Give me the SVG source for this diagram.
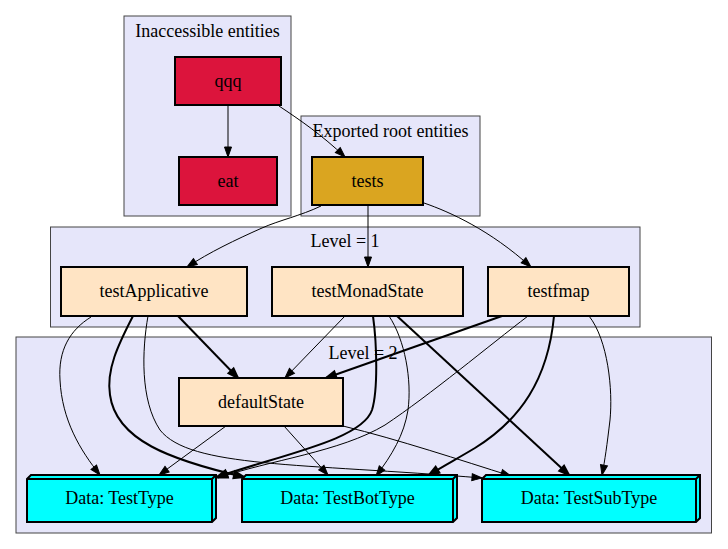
<svg xmlns="http://www.w3.org/2000/svg" width="728" height="549" viewBox="0 0 728 549">
<style>
text{font-family:"Liberation Serif","Times New Roman",serif;font-size:18px;text-anchor:middle;fill:#000}
.cl{fill:#e6e6fa;stroke:#444;stroke-width:1}
.n{stroke:#000;stroke-width:2}
.red{fill:#dc143c}.gold{fill:#daa520}.bis{fill:#ffe4c4}.cy{fill:#00ffff}
.e{fill:none;stroke:#000;stroke-width:1;marker-end:url(#a)}
.t{fill:none;stroke:#000;stroke-width:2;marker-end:url(#b)}
</style>
<defs>
<marker id="a" markerWidth="12" markerHeight="9" refX="10" refY="3.5" orient="auto" markerUnits="userSpaceOnUse" overflow="visible"><path d="M0,0 L10,3.5 L0,7 z" fill="#000" stroke="#000" stroke-width="1"/></marker>
<marker id="b" markerWidth="12" markerHeight="9" refX="10" refY="3.5" orient="auto" markerUnits="userSpaceOnUse" overflow="visible"><path d="M0,0 L10,3.5 L0,7 z" fill="#000" stroke="#000" stroke-width="2" stroke-linejoin="miter"/></marker>
</defs>
<rect width="728" height="549" fill="#fff"/>
<g id="clusters">
<rect class="cl" x="124" y="16" width="167" height="200"/>
<text x="207.5" y="37">Inaccessible entities</text>
<rect class="cl" x="301" y="116" width="179" height="100"/>
<text x="390.5" y="137">Exported root entities</text>
<rect class="cl" x="50.5" y="227" width="589.5" height="100"/>
<text x="345" y="247">Level = 1</text>
<rect class="cl" x="16" y="337" width="695.5" height="196"/>
<text x="363" y="359">Level = 2</text>
</g>
<g id="connectors">
<path class="e" d="M228,105 L228,157"/>
<path class="e" d="M279,106 C300,120 322,135 345,157"/>
<path class="e" d="M321,206 C300,216 280,220 262,228 C235,240 210,252 187,267"/>
<path class="e" d="M368,205 L368,267"/>
<path class="e" d="M424,203 C450,212 490,230 531,267"/>
<path class="t" d="M178,316 L238,378"/>
<path class="e" d="M91,317 C70,330 58,350 60,380 C62,420 80,450 100,475"/>
<path class="t" d="M133,316 C118,345 106,370 110,395 C116,440 170,460 244,477"/>
<path class="e" d="M148,316 C142,350 140,400 160,430 C190,468 300,463 482,478"/>
<path class="e" d="M345,316 L285,378"/>
<path class="t" d="M373,316 C377,345 378,390 372,410 C362,440 280,455 217,477"/>
<path class="e" d="M389,316 C405,340 412,380 408,410 C404,435 392,455 376,476"/>
<path class="t" d="M397,316 L569,475"/>
<path class="t" d="M502,316 L326,378"/>
<path class="e" d="M528,316 C490,345 430,395 385,425 C340,452 270,460 218,478"/>
<path class="t" d="M554,316 C548,380 520,420 475,448 C455,460 445,465 429,475"/>
<path class="e" d="M589,316 C608,340 613,390 610,420 C607,445 605,460 602,475"/>
<path class="e" d="M226,426 L159,475"/>
<path class="e" d="M284,426 L328,475"/>
<path class="e" d="M343,426 C400,440 460,460 511,476"/>
</g>
<g id="qqq"><rect class="n red" x="175" y="57" width="106" height="48"/><text x="228" y="87">qqq</text></g>
<g id="eat"><rect class="n red" x="179" y="157" width="98" height="48"/><text x="228" y="187">eat</text></g>
<g id="tests"><rect class="n gold" x="312" y="157" width="111" height="48"/><text x="367.5" y="187">tests</text></g>
<g id="testApplicative"><rect class="n bis" x="61" y="267" width="186" height="49"/><text x="154" y="297">testApplicative</text></g>
<g id="testMonadState"><rect class="n bis" x="272" y="267" width="191" height="49"/><text x="367.5" y="297">testMonadState</text></g>
<g id="testfmap"><rect class="n bis" x="488" y="267" width="141" height="49"/><text x="558.5" y="297">testfmap</text></g>
<g id="defaultState"><rect class="n bis" x="179" y="378" width="164" height="48"/><text x="261" y="408">defaultState</text></g>
<g id="TestType"><path class="n cy" d="M27,479 L31,475 L216,475 L216,518 L212,522 L27,522 Z"/><path d="M27,479 L212,479 L216,475 M212,479 L212,522" fill="none" stroke="#000" stroke-width="2"/><text x="119.5" y="504">Data: TestType</text></g>
<g id="TestBotType"><path class="n cy" d="M242,479 L246,475 L457,475 L457,518 L453,522 L242,522 Z"/><path d="M242,479 L453,479 L457,475 M453,479 L453,522" fill="none" stroke="#000" stroke-width="2"/><text x="347.5" y="504">Data: TestBotType</text></g>
<g id="TestSubType"><path class="n cy" d="M482,479 L486,475 L700,475 L700,518 L696,522 L482,522 Z"/><path d="M482,479 L696,479 L700,475 M696,479 L696,522" fill="none" stroke="#000" stroke-width="2"/><text x="589" y="504">Data: TestSubType</text></g>
</svg>
